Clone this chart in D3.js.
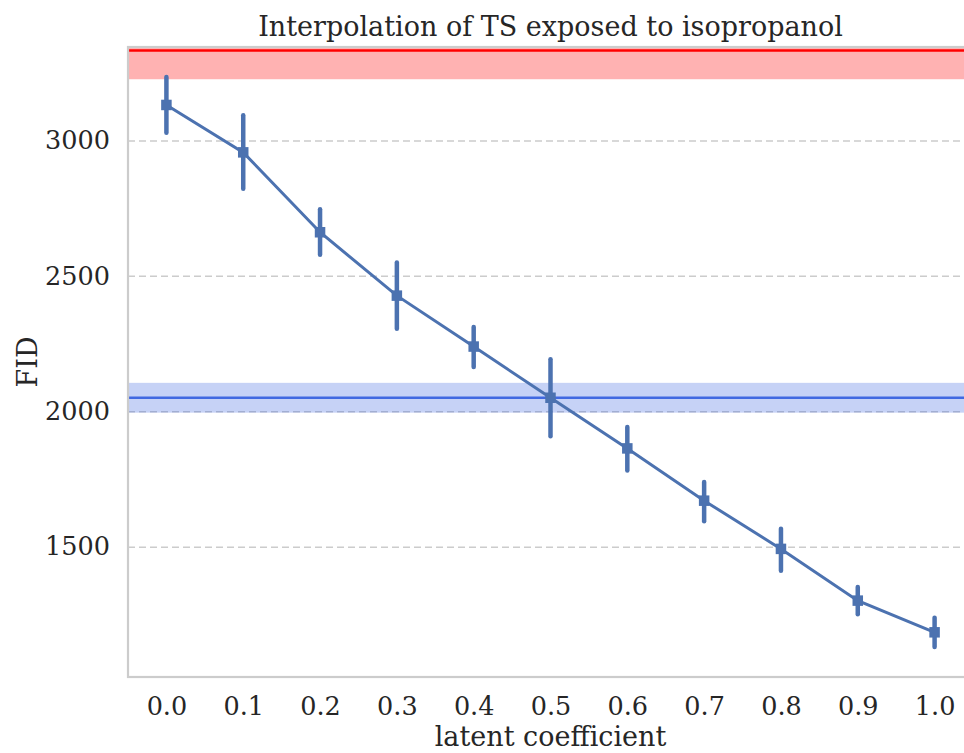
<!DOCTYPE html>
<html>
<head>
<meta charset="utf-8">
<script src="https://cdn.jsdelivr.net/npm/d3@7"></script>
<style>
  html, body { margin: 0; padding: 0; background: #fff; }
  svg { display: block; font-family: "DejaVu Serif", serif; }
</style>
</head>
<body>
<div id="chart"></div>
<script>
// latent coefficient categories
const coefficients = ['0.0', '0.1', '0.2', '0.3', '0.4', '0.5', '0.6', '0.7', '0.8', '0.9', '1.0'];
// mean FID per coefficient, with lower / upper error bounds
const fidMean = [3131, 2956, 2661, 2427, 2239, 2050, 1863, 1670, 1492, 1301, 1184];
const fidLow  = [3028, 2822, 2578, 2305, 2164, 1908, 1781, 1594, 1411, 1251, 1130];
const fidHigh = [3234, 3093, 2746, 2549, 2311, 2192, 1942, 1739, 1566, 1351, 1238];

// reference levels: [mean, std]
const redRef = [3332, 106];
const blueRef = [2050, 55];

const yTicks = [1500, 2000, 2500, 3000];
const yDomain = [1019, 3345];

const width = 964, height = 753;
const margin = { top: 47, right: -9, bottom: 76, left: 128 };
const innerW = width - margin.left - margin.right;
const innerH = height - margin.top - margin.bottom;

const svg = d3.select('#chart').append('svg')
  .attr('width', width).attr('height', height);

const g = svg.append('g')
  .attr('transform', `translate(${margin.left},${margin.top})`);

const x = d3.scalePoint().domain(coefficients).range([0, innerW]).padding(0.5);
const y = d3.scaleLinear().domain(yDomain).range([innerH, 0]);

// clip to the axes area
svg.append('defs').append('clipPath').attr('id', 'plot-clip')
  .append('rect').attr('width', innerW).attr('height', innerH);

// horizontal grid
const yAxis = d3.axisLeft(y).tickValues(yTicks).tickSize(-innerW).tickPadding(18).tickFormat(d3.format('d'));
const yG = g.append('g').attr('class', 'y axis').call(yAxis);
yG.select('.domain').remove();
yG.selectAll('.tick line')
  .attr('stroke', '#cccccc').attr('stroke-width', 1.5).attr('stroke-dasharray', '7,4');
yG.selectAll('.tick text')
  .attr('fill', '#262626').style('font-size', '25.5px').style('font-family', '"DejaVu Serif", serif');

const plot = g.append('g').attr('clip-path', 'url(#plot-clip)');

// reference bands and lines
const refs = [
  { ref: redRef, line: '#ff0000', band: '#ff0000' },
  { ref: blueRef, line: '#4169e1', band: '#4169e1' }
];
refs.forEach(r => {
  plot.append('rect')
    .attr('x', 0).attr('width', innerW)
    .attr('y', y(r.ref[0] + r.ref[1]))
    .attr('height', y(r.ref[0] - r.ref[1]) - y(r.ref[0] + r.ref[1]))
    .attr('fill', r.band).attr('fill-opacity', 0.3);
  plot.append('line')
    .attr('x1', 0).attr('x2', innerW)
    .attr('y1', y(r.ref[0])).attr('y2', y(r.ref[0]))
    .attr('stroke', r.line).attr('stroke-width', 2.5);
});

const points = coefficients.map((c, i) => ({ c, mean: fidMean[i], lo: fidLow[i], hi: fidHigh[i] }));
const color = '#4c72b0';

// error bars
plot.selectAll('.err').data(points).enter().append('line')
  .attr('class', 'err')
  .attr('x1', d => x(d.c)).attr('x2', d => x(d.c))
  .attr('y1', d => y(d.lo)).attr('y2', d => y(d.hi))
  .attr('stroke', color).attr('stroke-width', 4.5).attr('stroke-linecap', 'round');

// connecting line
const lineGen = d3.line().x(d => x(d.c)).y(d => y(d.mean));
plot.append('path').datum(points)
  .attr('d', lineGen)
  .attr('fill', 'none').attr('stroke', color).attr('stroke-width', 3);

// square markers
const ms = 10.5;
plot.selectAll('.marker').data(points).enter().append('rect')
  .attr('class', 'marker')
  .attr('x', d => x(d.c) - ms / 2).attr('y', d => y(d.mean) - ms / 2)
  .attr('width', ms).attr('height', ms)
  .attr('fill', color);

// x axis labels
const xAxis = d3.axisBottom(x).tickSize(0).tickPadding(20);
const xG = g.append('g').attr('class', 'x axis')
  .attr('transform', `translate(0,${innerH})`).call(xAxis);
xG.select('.domain').remove();
xG.selectAll('.tick text')
  .attr('fill', '#262626').style('font-size', '25.5px').style('font-family', '"DejaVu Serif", serif');

// spines
g.append('rect')
  .attr('x', 0).attr('y', 0).attr('width', innerW).attr('height', innerH)
  .attr('fill', 'none').attr('stroke', '#cccccc').attr('stroke-width', 2.2);

// titles
svg.append('text')
  .attr('x', margin.left + innerW / 2).attr('y', 36)
  .attr('text-anchor', 'middle').attr('fill', '#262626')
  .style('font-size', '27px')
  .text('Interpolation of TS exposed to isopropanol');

svg.append('text')
  .attr('x', margin.left + innerW / 2).attr('y', 746)
  .attr('text-anchor', 'middle').attr('fill', '#262626')
  .style('font-size', '27px')
  .text('latent coefficient');

svg.append('text')
  .attr('transform', `translate(37,${margin.top + innerH / 2}) rotate(-90)`)
  .attr('text-anchor', 'middle').attr('fill', '#262626')
  .style('font-size', '27px')
  .text('FID');
</script>
</body>
</html>
